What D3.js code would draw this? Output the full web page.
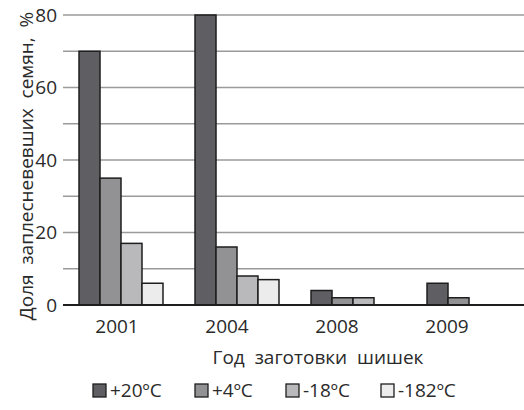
<!DOCTYPE html>
<html><head><meta charset="utf-8">
<script src="https://cdn.jsdelivr.net/npm/d3@7"></script>
<style>body{margin:0;background:#fff}svg{display:block}text{font-family:"Open Sans",sans-serif;fill:#2a2a2a}</style>
</head><body>
<svg id="c" width="524" height="410"></svg>
<script>
const categories = ["2001","2004","2008","2009"];
const seriesNames = ["+20ºC","+4ºC","-18ºC","-182ºC"];
const v20  = [70, 80, 4, 6];
const v4   = [35, 16, 2, 2];
const vm18 = [17, 8, 2, 0];
const vm182= [6, 7, 0, 0];
const yTicks = [0,20,40,60,80];
const gridTicks = [10,20,30,40,50,60,70,80];
const colors = ["#5f5f63","#929295","#b9b9bc","#ececec"];
const series = [v20, v4, vm18, vm182];

(function(){
const svg = d3.select("#c");
const pl = 63, pr = 527, pt = 15, pb = 305;
const fs = "19px";
const y = d3.scaleLinear().domain([0,80]).range([pb, pt]);
const x = d3.scaleBand().domain(categories).range([pl, pr]).paddingInner(0.276).paddingOuter(0.138);
const xs = d3.scaleBand().domain(seriesNames).range([0, x.bandwidth()]);
const xl = d3.scalePoint().domain(categories).range([117, 447]);

svg.append("g").selectAll("line").data(gridTicks).join("line")
  .attr("x1", pl).attr("x2", 524).attr("y1", d=>y(d)).attr("y2", d=>y(d))
  .attr("stroke", "#9a9a9a").attr("stroke-width", 1.6);

const g = svg.append("g");
series.forEach((vals, si) => {
  g.selectAll(null).data(categories.map((c,i)=>({c, v: vals[i]})).filter(d=>d.v>0)).join("rect")
    .attr("x", d => x(d.c) + xs(seriesNames[si]))
    .attr("y", d => y(d.v))
    .attr("width", xs.bandwidth())
    .attr("height", d => y(0) - y(d.v))
    .attr("fill", colors[si]).attr("stroke", "#1e1e1e").attr("stroke-width", 1.5);
});

svg.append("line").attr("x1", pl).attr("x2", 524).attr("y1", y(0)).attr("y2", y(0))
  .attr("stroke", "#1e1e1e").attr("stroke-width", 2);

svg.append("g").selectAll("text").data(yTicks).join("text")
  .attr("x", 57).attr("y", d=>y(d)).attr("dy", "0.36em").attr("text-anchor", "end")
  .style("font-size", fs).text(d=>d);

svg.append("g").selectAll("text").data(categories).join("text")
  .attr("x", d=>xl(d)).attr("y", 333).attr("text-anchor", "middle")
  .style("font-size", fs).text(d=>d);

svg.append("text").attr("x", 318).attr("y", 364).attr("text-anchor", "middle")
  .style("font-size", fs).attr("xml:space","preserve").text("Год  заготовки  шишек");

svg.append("text").attr("transform", "translate(33,166) rotate(-90)").attr("text-anchor", "middle")
  .style("font-size", fs).attr("xml:space","preserve").text("Доля  заплесневевших  семян,  %");

const legX = [93, 195, 286, 381];
const lg = svg.append("g").selectAll("g").data(seriesNames).join("g")
  .attr("transform", (d,i)=>`translate(${legX[i]},384)`);
lg.append("rect").attr("width", 13).attr("height", 13)
  .attr("fill", (d,i)=>colors[i]).attr("stroke", "#1e1e1e").attr("stroke-width", 1.3);
lg.append("text").attr("x", 17).attr("y", 6.5).attr("dy", "0.36em").style("font-size", fs).text(d=>d);
})();
</script>
</body></html>
